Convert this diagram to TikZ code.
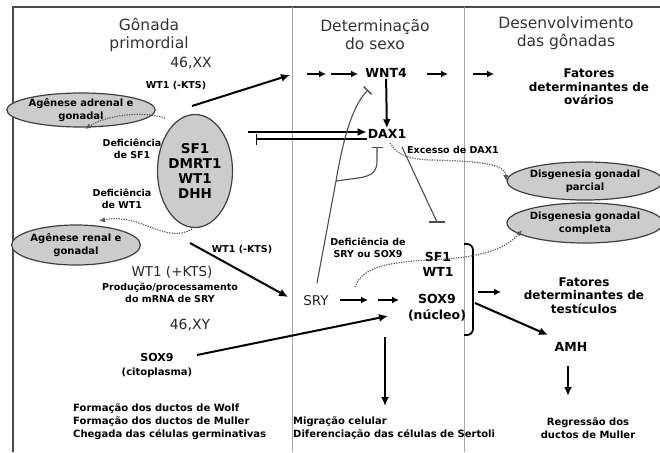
\documentclass[tikz,border=0pt]{standalone}
\usepackage{fontspec}
\setmainfont{DejaVu Sans}
\usetikzlibrary{arrows.meta,shapes.geometric}
\begin{document}
\begin{tikzpicture}[x=1pt,y=-1pt,
  hdr/.style={font=\fontsize{15.5}{18}\selectfont, align=center, text=black!80, inner sep=0pt},
  big/.style={font=\fontsize{14}{16}\selectfont, text=black!85, inner sep=0pt},
  lbl/.style={font=\bfseries\fontsize{9.5}{12}\selectfont, align=center, inner sep=0pt},
  low/.style={font=\bfseries\fontsize{10}{13}\selectfont, inner sep=0pt},
  gene/.style={font=\bfseries\fontsize{12.5}{15.5}\selectfont, align=center, inner sep=1pt},
  fat/.style={font=\bfseries\fontsize{12}{13.5}\selectfont, align=center, inner sep=0pt},
  ell/.style={ellipse, draw=black!75, fill=black!20, line width=1.2pt, inner sep=0pt, align=center, font=\bfseries\fontsize{10}{13}\selectfont},
  ar/.style={line width=2pt, -{Latex[length=9pt,width=8pt]}},
  sar/.style={line width=2pt, -{Latex[length=7pt,width=7pt]}},
  inh/.style={line width=1.1pt, draw=black!70, -{Bar[width=11pt,line width=1.3pt]}},
  dots/.style={draw=black!65, line width=1.2pt, dash pattern=on 1.2pt off 1.3pt, -{Latex[length=6pt,width=5.5pt]}},
]
\useasboundingbox (0,0) rectangle (660,452);
% frame and columns
\draw[line width=1.5pt, black!70] (13,452) -- (13,7) -- (660,7);
\draw[black!35, line width=0.8pt] (292,7) -- (292,452);
\draw[black!35, line width=0.8pt] (464,7) -- (464,452);
% headers
\node[hdr] (h1) at (149,35) {Gônada\\primordial};
\node[hdr] (h2) at (375,35) {Determinação\\do sexo};
\node[hdr] (h3) at (566,33) {Desenvolvimento\\das gônadas};
% left column
\node[big] (xx) at (191,63) {46,XX};
\node[lbl] (wkts1) at (176,86) {WT1 (-KTS)};
\node[ell, minimum width=125pt, minimum height=34pt] (e1) at (81,110) {Agênese adrenal e\\gonadal};
\node[ellipse, draw=black!75, fill=black!20, line width=1.2pt, inner sep=0pt, align=center,
      minimum width=70pt, minimum height=113pt, font=\bfseries\fontsize{13.5}{14.7}\selectfont] (sf) at (195,171) {SF1\\DMRT1\\WT1\\DHH};
\node[lbl] (dsf) at (132,149) {Deficiência\\de SF1};
\node[lbl] (dwt) at (122,199) {Deficiência\\de WT1};
\node[ell, minimum width=105pt, minimum height=40pt] (e2) at (76,245) {Agênese renal e\\gonadal};
\node[lbl] (wkts2) at (242,250) {WT1 (-KTS)};
\node[font=\fontsize{13.5}{16}\selectfont, text=black!85, inner sep=0pt] (wpk) at (172,272) {WT1 (+KTS)};
\node[lbl] (prod) at (170,293) {Produção/processamento\\do mRNA de SRY};
\node[big] (xy) at (190,325) {46,XY};
\node[font=\bfseries\fontsize{11}{13}\selectfont, inner sep=0pt] (s9c) at (157,357) {SOX9};
\node[low] (cito) at (157,373) {(citoplasma)};
\node[low, anchor=west, align=left] (bl) at (73,422) {Formação dos ductos de Wolf\\Formação dos ductos de Muller\\Chegada das células germinativas};
% middle column
\node[gene] (wnt4) at (386,73) {WNT4};
\node[gene] (dax1) at (387,134) {DAX1};
\node[lbl, anchor=west] (exc) at (407,150) {Excesso de DAX1};
\node[lbl] (dsry) at (368,248) {Deficiência de\\SRY ou SOX9};
\node[font=\fontsize{13.5}{16}\selectfont, text=black!85, inner sep=1pt] (sry) at (316,301) {SRY};
\node[gene, font=\bfseries\fontsize{12.5}{15}\selectfont] (sfwt) at (438,264.5) {SF1\\WT1};
\node[gene, font=\bfseries\fontsize{12.5}{16}\selectfont] (s9n) at (437,308) {SOX9\\(núcleo)};
\node[low, anchor=west, align=left] (bm) at (293,428.5) {Migração celular\\Diferenciação das células de Sertoli};
% right column
\node[fat] (fov) at (589,87) {Fatores\\determinantes de\\ovários};
\node[ell, minimum width=125pt, minimum height=38pt] (e3) at (585,181) {Disgenesia gonadal\\parcial};
\node[ell, minimum width=125pt, minimum height=40pt] (e4) at (585,223) {Disgenesia gonadal\\completa};
\node[fat] (fte) at (584,295.5) {Fatores\\determinantes de\\testículos};
\node[gene] (amh) at (571,347) {AMH};
\node[low, align=center] (reg) at (588,428.5) {Regressão dos\\ductos de Muller};
% coordinates
\coordinate (a1s) at (192,106); \coordinate (a1e) at (290,75);
\coordinate (t1s) at (307,74); \coordinate (t1e) at (326,74);
\coordinate (t2s) at (331,74); \coordinate (t2e) at (358,74);
\coordinate (t3s) at (427,74); \coordinate (t3e) at (448,74);
\coordinate (t4s) at (473,74); \coordinate (t4e) at (494,74);
\coordinate (d1) at (248,132); \coordinate (d2) at (256,139);
\coordinate (sryt) at (317,283); \coordinate (jn) at (336,181);
\coordinate (wb) at (368,90); \coordinate (db) at (377,147);
\coordinate (ds) at (402,147); \coordinate (dt) at (437,222);
\coordinate (exs) at (390,143);
\coordinate (a2s) at (190,243); \coordinate (a2e) at (288,297);
\coordinate (r1s) at (340,300); \coordinate (r1e) at (368,300);
\coordinate (r2s) at (378,300); \coordinate (r2e) at (399,300);
\coordinate (cs) at (197,355); \coordinate (ce) at (388,316);
\coordinate (sds) at (385,337); \coordinate (sde) at (385,406);
\coordinate (bs) at (478,292); \coordinate (be) at (501,292);
\coordinate (ms) at (475,303); \coordinate (me) at (548,335);
\coordinate (ams) at (568,366); \coordinate (ame) at (568,396);
\coordinate (sfd) at (165,118); \coordinate (e1b) at (85,129);
\coordinate (wtd) at (192,229); \coordinate (e2t) at (99,221);
\coordinate (srd) at (355,287); \coordinate (e4w) at (522,230);
% arrows
\draw[ar] (a1s) -- (a1e);
\draw[sar] (t1s) -- (t1e);
\draw[sar] (t2s) -- (t2e);
\draw[sar] (t3s) -- (t3e);
\draw[sar] (t4s) -- (t4e);
\draw[ar] (wnt4) -- (dax1);
\draw[ar] (d1) -- (dax1.west |- d1);
\draw[line width=1.4pt, -{Bar[width=11pt,line width=1.4pt]}] (dax1.west |- d2) -- (d2);
\draw[inh] (sryt) -- (jn) .. controls (343,140) and (352,106) .. (wb);
\draw[inh] (jn) -- (358,178) .. controls (374,176) and (377,170) .. (377,160) -- (db);
\draw[line width=1.1pt, black!70] (ds) -- (dt);
\draw[line width=1.3pt, black!70] (429,222) -- (445,222);
\draw[ar] (a2s) -- (a2e);
\draw[sar] (r1s) -- (r1e);
\draw[sar] (r2s) -- (r2e);
\draw[ar] (cs) -- (ce);
\draw[ar] (sds) -- (sde);
\draw[line width=1.8pt, rounded corners=6pt] (464,244) -- (473,244) -- (473,335) -- (464,335);
\draw[sar] (bs) -- (be);
\draw[ar] (ms) -- (me);
\draw[ar] (ams) -- (ame);
% dotted
\draw[dots] (sfd) .. controls (140,110) and (105,116) .. (e1b);
\draw[dots] (wtd) .. controls (165,245) and (140,212) .. (e2t);
\draw[dots] (exs) .. controls (398,156) and (410,159) .. (430,160) .. controls (490,161) and (505,166) .. (e3.west);
\draw[dots] (srd) .. controls (362,266) and (392,262) .. (430,260) .. controls (478,258) and (505,250) .. (e4w);
\end{tikzpicture}
\end{document}
